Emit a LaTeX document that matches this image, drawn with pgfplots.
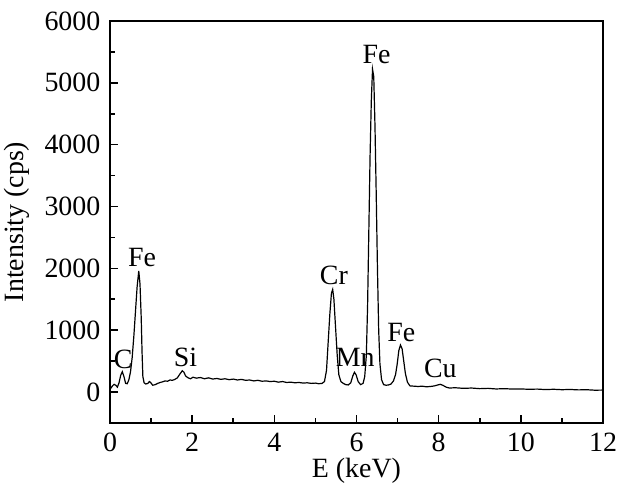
\documentclass[border=0pt]{standalone}
\usepackage{fontspec}
\setmainfont{Liberation Serif}
\usepackage{pgfplots}
\pgfplotsset{compat=1.18}

\pgfplotstableread{
x y
0.02 60
0.06 100
0.10 125
0.14 110
0.18 80
0.22 150
0.26 270
0.30 330
0.34 250
0.38 140
0.42 135
0.46 200
0.50 330
0.54 560
0.58 900
0.62 1300
0.66 1700
0.70 1960
0.73 1750
0.76 1200
0.78 650
0.80 250
0.83 150
0.87 130
0.92 140
0.96 170
1.00 145
1.04 110
1.10 120
1.16 140
1.22 155
1.28 165
1.34 180
1.40 175
1.46 195
1.52 190
1.58 205
1.64 230
1.70 290
1.76 345
1.80 320
1.84 260
1.90 230
1.96 215
2.02 240
2.10 225
2.20 235
2.30 215
2.40 230
2.50 210
2.60 220
2.70 205
2.80 215
2.90 200
3.00 210
3.10 195
3.20 205
3.30 190
3.40 195
3.50 180
3.60 190
3.70 175
3.80 180
3.90 170
4.00 175
4.10 160
4.20 170
4.30 155
4.40 160
4.50 150
4.60 155
4.70 145
4.80 150
4.90 140
5.00 145
5.08 135
5.16 140
5.22 170
5.27 350
5.31 800
5.35 1250
5.39 1600
5.42 1660
5.45 1500
5.49 1050
5.53 600
5.57 280
5.62 170
5.68 140
5.74 120
5.80 115
5.86 150
5.91 260
5.95 320
5.99 280
6.04 170
6.10 120
6.16 140
6.20 250
6.24 600
6.27 1400
6.30 2600
6.33 3800
6.36 4700
6.39 5220
6.42 5100
6.45 4300
6.48 3200
6.51 2000
6.54 1000
6.57 460
6.61 200
6.66 120
6.72 110
6.78 115
6.84 130
6.90 180
6.95 280
6.99 450
7.03 670
7.07 760
7.11 700
7.15 500
7.19 300
7.24 160
7.30 100
7.40 95
7.50 90
7.60 95
7.70 85
7.80 90
7.90 100
7.98 115
8.04 125
8.10 110
8.18 80
8.26 65
8.40 70
8.60 60
8.80 65
9.00 55
9.20 60
9.40 50
9.60 55
9.80 48
10.00 50
10.20 45
10.40 48
10.60 40
10.80 45
11.00 38
11.20 42
11.40 35
11.60 38
11.80 30
12.00 32
}\spectrum

\begin{document}
\fontsize{14}{16}\selectfont
\begin{tikzpicture}
\begin{axis}[
  scale only axis, width=246.5bp, height=201bp,
  xmin=0, xmax=12, ymin=-500, ymax=6000,
  xtick={0,2,...,12}, minor x tick num=1,
  ytick={0,1000,...,6000}, minor y tick num=1,
  tick pos=left, tick align=inside,
  major tick length=4bp, minor tick length=2.5bp,
  axis line style={line width=1bp}, every tick/.style={line width=0.8bp, black},
  /pgf/number format/assume math mode=true,
  /pgf/number format/1000 sep={},
  tick label style={font=\fontsize{14}{16}\selectfont},
  label style={font=\fontsize{14}{16}\selectfont},
  xlabel={E (keV)}, ylabel={Intensity (cps)},
  xlabel style={yshift=6bp},
  ylabel style={yshift=-2bp},
  clip=false,
]
\addplot[black, line width=0.6bp, mark=none] table {\spectrum};
\node at (axis cs:0.32,530) {C};
\node at (axis cs:0.78,2170) {Fe};
\node at (axis cs:1.84,560) {Si};
\node at (axis cs:5.45,1880) {Cr};
\node at (axis cs:5.97,560) {Mn};
\node at (axis cs:6.49,5460) {Fe};
\node at (axis cs:7.09,960) {Fe};
\node at (axis cs:8.04,380) {Cu};
\end{axis}
\pgfresetboundingbox
\useasboundingbox ([shift={(-55bp,-30bp)}]current axis.south west) rectangle ([shift={(13.5bp,10.5bp)}]current axis.north east);
\end{tikzpicture}
\end{document}
